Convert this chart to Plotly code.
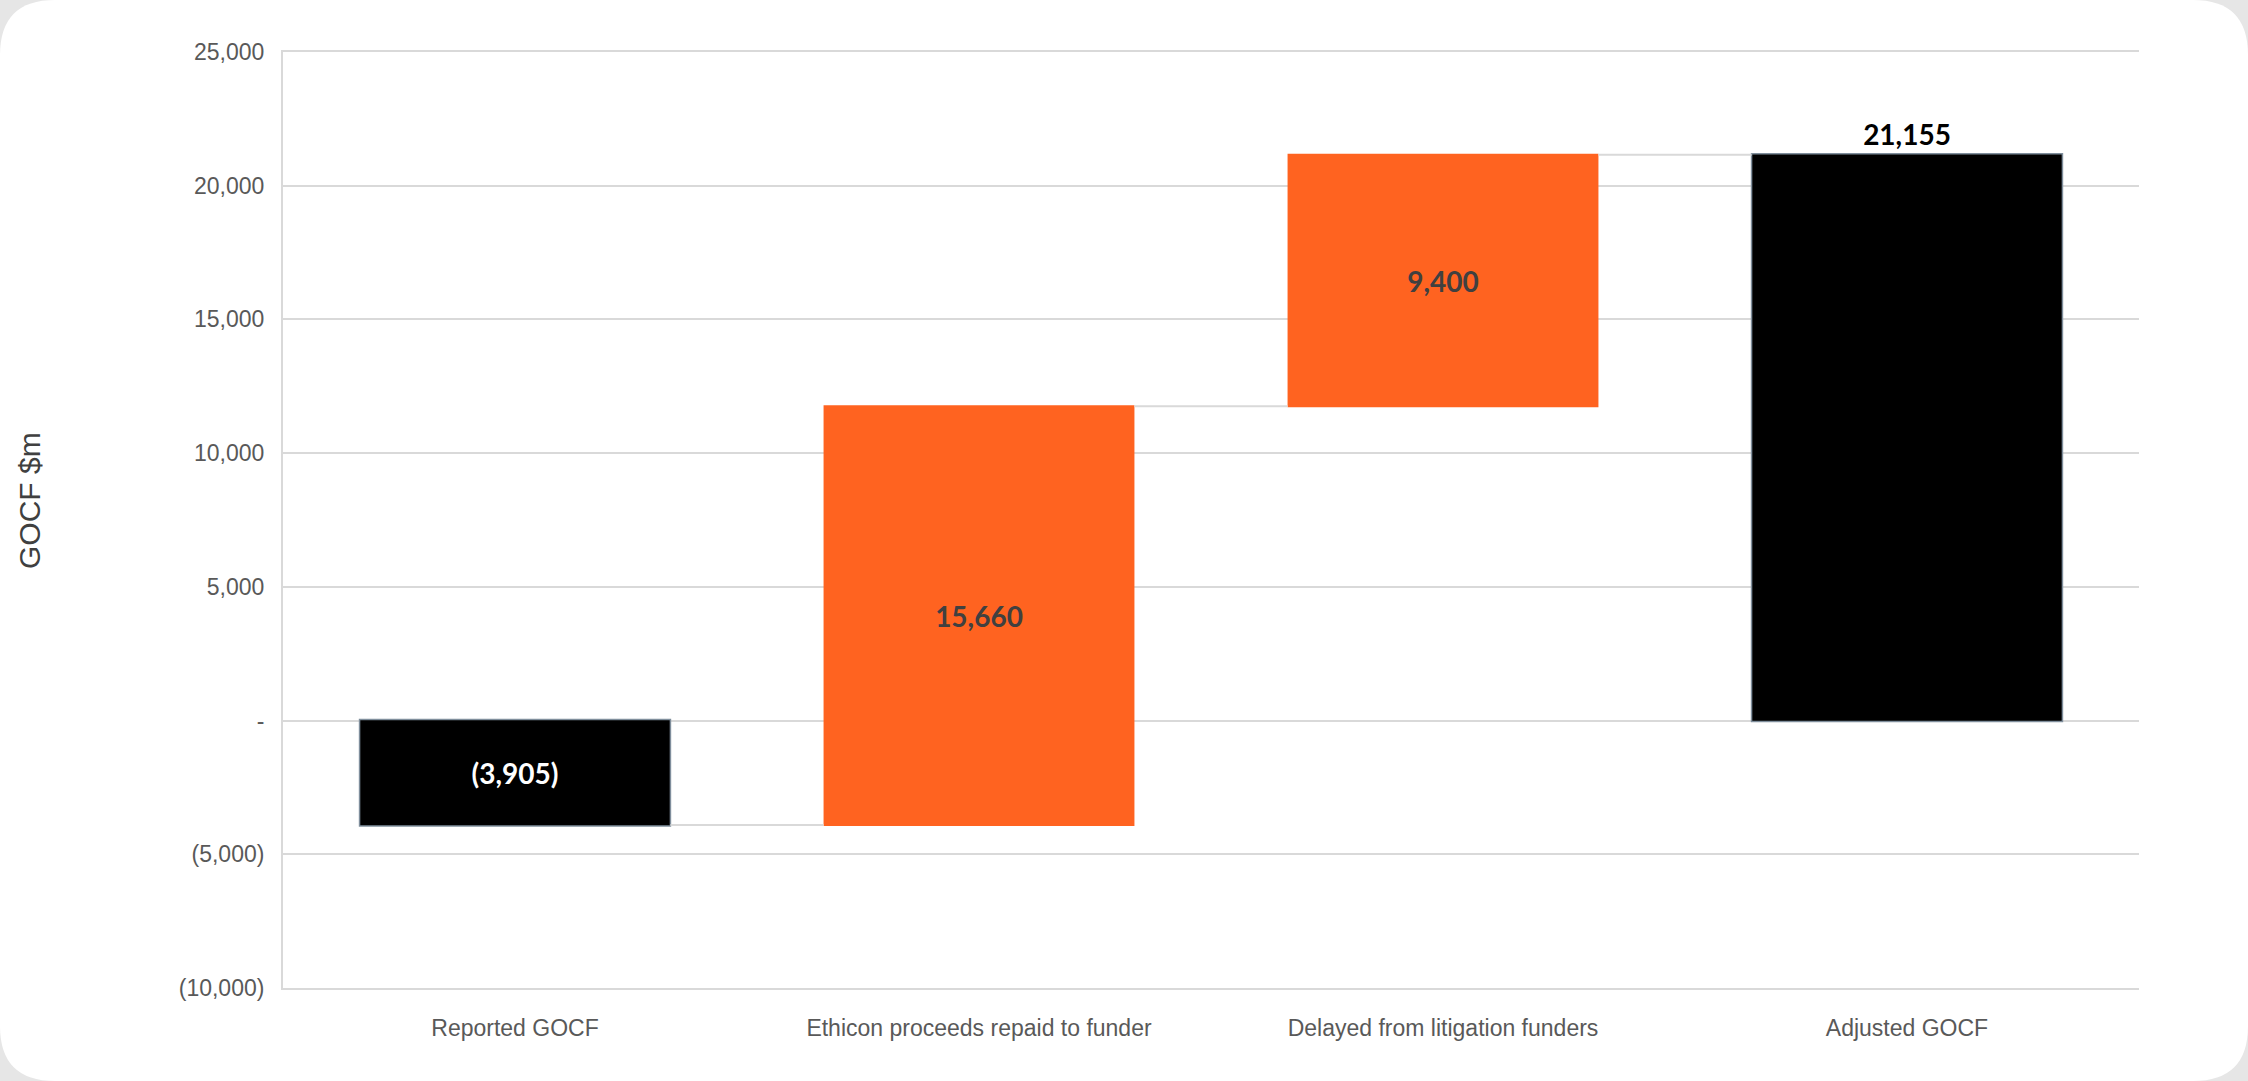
import plotly.graph_objects as go

# ---- data ----
categories = ["Reported GOCF", "Ethicon proceeds repaid to funder",
              "Delayed from litigation funders", "Adjusted GOCF"]
measures = ["absolute", "relative", "relative", "total"]
values = [-3905, 15660, 9400, 21155]
tick_vals = [-10000, -5000, 0, 5000, 10000, 15000, 20000, 25000]
tick_text = ["(10,000)", "(5,000)", "-", "5,000", "10,000", "15,000", "20,000", "25,000"]


def fmt(v):
    return f"({abs(v):,})" if v < 0 else f"{v:,}"


labels = [fmt(v) for v in values]

W, H = 2248, 1081
L, R, T, B = 283, 2248 - 2139, 52, 1081 - 988
pw, ph = W - L - R, H - T - B


def px(x):
    return (x - L) / pw


def py(y):
    return (H - B - y) / ph


# rounded card path in paper coords
r = 55
path = (f"M {px(r)},{py(0)} L {px(W - r)},{py(0)} Q {px(W)},{py(0)} {px(W)},{py(r)} "
        f"L {px(W)},{py(H - r)} Q {px(W)},{py(H)} {px(W - r)},{py(H)} "
        f"L {px(r)},{py(H)} Q {px(0)},{py(H)} {px(0)},{py(H - r)} "
        f"L {px(0)},{py(r)} Q {px(0)},{py(0)} {px(r)},{py(0)} Z")

fig = go.Figure()
fig.add_trace(go.Waterfall(
    x=categories,
    measure=measures,
    y=[values[0], values[1], values[2], None],
    text=labels,
    textposition=["inside", "inside", "inside", "outside"],
    textfont=dict(family="Lato", size=28, weight="bold",
                  color=["#ffffff", "#404040", "#404040", "#000000"]),
    insidetextanchor="middle",
    increasing=dict(marker=dict(color="#FF6320", line=dict(width=0))),
    decreasing=dict(marker=dict(color="#000000", line=dict(width=0))),
    totals=dict(marker=dict(color="#000000", line=dict(color="#7f8e9c", width=1.5))),
    connector=dict(mode="between", line=dict(color="#d9d9d9", width=2)),
    cliponaxis=False,
    showlegend=False,
    hoverinfo="skip",
))

fig.update_layout(
    width=W, height=H,
    margin=dict(l=L, r=R, t=T, b=B, pad=0),
    paper_bgcolor="#e6e6e6",
    plot_bgcolor="rgba(0,0,0,0)",
    waterfallgap=0.33,
    font=dict(family="Liberation Sans, Arial", color="#595959"),
    shapes=[dict(type="path", xref="paper", yref="paper", path=path,
                 fillcolor="#ffffff", line=dict(width=0), layer="below")],
    annotations=[dict(text="GOCF $m", xref="paper", yref="paper",
                      x=px(30), y=py(501), textangle=-90, showarrow=False,
                      font=dict(family="Liberation Sans, Arial", size=30, color="#404040"),
                      xanchor="center", yanchor="middle")],
)
fig.update_yaxes(
    range=[-10000, 25000], tickvals=tick_vals, ticktext=tick_text,
    showgrid=True, gridcolor="#d9d9d9", gridwidth=2,
    showline=True, linecolor="#d9d9d9", linewidth=2,
    zeroline=False, ticks="", tickfont=dict(size=23, color="#595959"),
    ticklabelstandoff=12,
)
fig.update_xaxes(
    showgrid=False, showline=True, mirror=True,
    linecolor="#d9d9d9", linewidth=2, ticks="",
    tickfont=dict(size=23, color="#595959"),
    ticklabelstandoff=18,
)

fig.write_html("out.html")
